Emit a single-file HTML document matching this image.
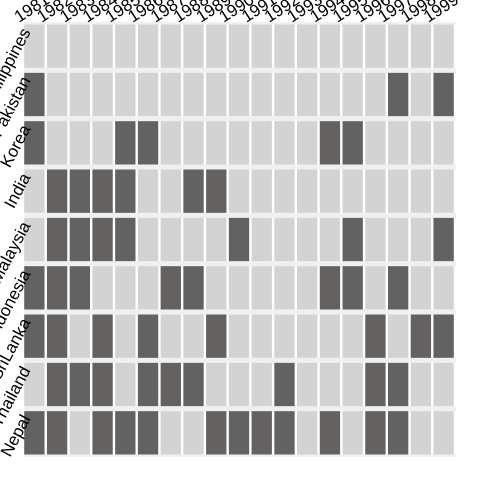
<!DOCTYPE html>
<html><head><meta charset="utf-8"><style>
html,body{margin:0;padding:0;background:#fff;width:480px;height:480px;overflow:hidden}
text{font-family:"Liberation Sans",sans-serif;font-size:17px;fill:#000}
</style></head><body>
<svg id="chart" width="480" height="480" xmlns="http://www.w3.org/2000/svg"></svg>
<script>
const years = ["1981","1982","1983","1984","1985","1986","1987","1988","1989","1990","1991","1992","1993","1994","1995","1996","1997","1998","1999"];
const countries = ["Philippines","Pakistan","Korea","India","Malaysia","Indonesia","SriLanka","Thailand","Nepal"];
const philippines = [0,0,0,0,0,0,0,0,0,0,0,0,0,0,0,0,0,0,0];
const pakistan    = [1,0,0,0,0,0,0,0,0,0,0,0,0,0,0,0,1,0,1];
const korea       = [1,0,0,0,1,1,0,0,0,0,0,0,0,1,1,0,0,0,0];
const india       = [0,1,1,1,1,0,0,1,1,0,0,0,0,0,0,0,0,0,0];
const malaysia    = [0,1,1,1,1,0,0,0,0,1,0,0,0,0,1,0,0,0,1];
const indonesia   = [1,1,1,0,0,0,1,1,0,0,0,0,0,1,1,0,1,0,0];
const srilanka    = [1,1,0,1,0,1,0,0,1,0,0,0,0,0,0,1,0,1,1];
const thailand    = [0,1,1,1,0,1,1,1,0,0,0,1,0,0,0,1,1,0,0];
const nepal       = [1,1,0,1,1,1,0,0,1,1,1,1,0,1,0,1,1,0,0];
const values = [philippines,pakistan,korea,india,malaysia,indonesia,srilanka,thailand,nepal];

const NS="http://www.w3.org/2000/svg";
const svg=document.getElementById('chart');
const X0=24,X1=456,Y0=22,Y1=457;
const colW=(X1-X0)/years.length, rowH=(Y1-Y0)/countries.length;
const xPos=i=>X0+i*colW;
const yPos=j=>Y0+j*rowH;
function mk(t,a){const e=document.createElementNS(NS,t);for(const k in a)e.setAttribute(k,a[k]);svg.appendChild(e);return e;}

const bg=mk('rect',{x:X0,y:Y0,width:X1-X0,height:Y1-Y0,fill:'#f0f0f0'});



values.forEach((row,j)=>{
  const band=mk('rect',{x:X0,y:yPos(j)+2.5,width:X1-X0,height:rowH-5,fill:'#ffffff'});
  
  
  row.forEach((v,i)=>{
    const c=mk('rect',{x:xPos(i)+0.2,y:yPos(j)+2.5,width:colW-2.4,height:rowH-5,fill:v?'#636261':'#d3d3d3'});
    
    
  });
});

years.forEach((y,i)=>{
  const cx=xPos(i)-5, cy=23;
  const t=mk('text',{x:cx,y:cy,transform:`rotate(-33 ${cx} ${cy})`,'text-anchor':'start'});
  t.textContent=y;
  
  
});
countries.forEach((c,j)=>{
  const cx=31, cy=yPos(j)+10;
  const t=mk('text',{x:cx,y:cy,transform:`rotate(-62 ${cx} ${cy})`,'text-anchor':'end'});
  t.textContent=c;
  
  
});
</script>
</body></html>
